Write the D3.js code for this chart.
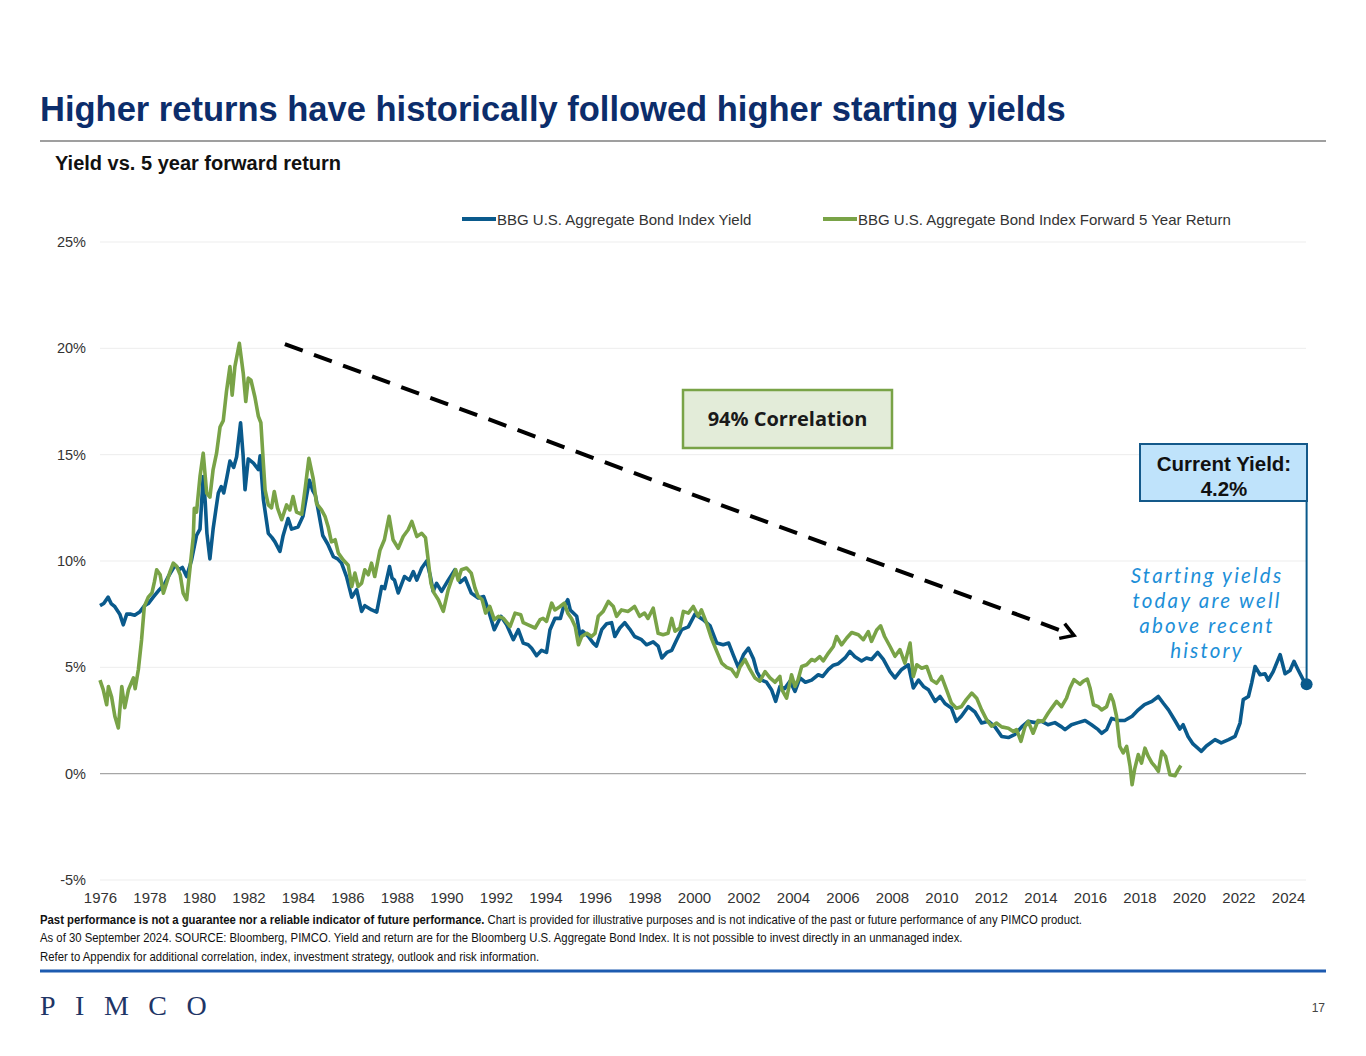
<!DOCTYPE html>
<html><head><meta charset="utf-8">
<script src="https://cdn.jsdelivr.net/npm/d3@7"></script>
<style>
body{margin:0;background:#fff;}
svg{display:block;font-family:"Liberation Sans",Arial,sans-serif;}
</style></head><body>
<svg id="c" width="1366" height="1056"></svg>
<script>
const yieldSeries = [[1976.00,7.9],[1976.15,8.0],[1976.33,8.3],[1976.45,8.0],[1976.60,7.85],[1976.80,7.5],[1976.94,7.0],[1977.08,7.5],[1977.25,7.5],[1977.40,7.45],[1977.60,7.6],[1977.80,7.9],[1977.95,8.0],[1978.15,8.3],[1978.40,8.65],[1978.60,8.9],[1978.76,9.27],[1979.03,9.8],[1979.20,9.6],[1979.33,9.7],[1979.50,9.27],[1979.70,10.05],[1979.90,11.2],[1980.04,11.5],[1980.17,13.97],[1980.25,12.8],[1980.32,11.3],[1980.44,10.1],[1980.57,11.5],[1980.68,12.4],[1980.78,13.2],[1980.90,13.5],[1981.00,13.2],[1981.12,13.9],[1981.25,14.7],[1981.40,14.4],[1981.52,14.9],[1981.68,16.5],[1981.78,15.0],[1981.86,13.35],[1981.99,14.8],[1982.20,14.6],[1982.40,14.3],[1982.47,14.95],[1982.60,12.9],[1982.80,11.3],[1982.95,11.1],[1983.07,10.9],[1983.27,10.45],[1983.40,11.2],[1983.60,12.0],[1983.74,11.5],[1984.00,11.6],[1984.20,12.1],[1984.46,13.8],[1984.60,13.3],[1984.70,13.1],[1984.80,12.5],[1985.00,11.2],[1985.20,10.8],[1985.43,10.2],[1985.60,10.1],[1985.76,9.9],[1985.96,9.27],[1986.17,8.3],[1986.37,8.65],[1986.57,7.63],[1986.70,7.9],[1986.98,7.7],[1987.18,7.6],[1987.38,8.8],[1987.50,8.7],[1987.70,9.74],[1987.80,9.2],[1987.90,9.1],[1988.05,8.5],[1988.30,9.27],[1988.50,9.1],[1988.66,9.5],[1988.80,9.1],[1989.00,9.67],[1989.20,10.0],[1989.35,9.27],[1989.46,8.57],[1989.60,8.95],[1989.80,8.57],[1990.07,9.1],[1990.34,9.59],[1990.55,9.0],[1990.75,9.2],[1991.00,8.49],[1991.28,8.26],[1991.50,8.33],[1991.69,7.7],[1991.93,6.77],[1992.20,7.4],[1992.43,7.0],[1992.70,6.3],[1992.90,6.77],[1993.10,6.14],[1993.30,6.06],[1993.44,5.9],[1993.64,5.55],[1993.84,5.8],[1994.04,5.7],[1994.18,6.77],[1994.38,7.3],[1994.60,7.3],[1994.72,7.8],[1994.90,8.18],[1995.00,7.7],[1995.26,7.4],[1995.40,6.45],[1995.50,6.7],[1995.73,6.45],[1995.93,6.14],[1996.06,6.0],[1996.27,6.77],[1996.47,7.05],[1996.67,7.1],[1996.80,6.45],[1997.00,6.85],[1997.20,7.1],[1997.40,6.8],[1997.60,6.45],[1997.88,6.3],[1998.08,6.06],[1998.35,6.2],[1998.55,6.0],[1998.70,5.44],[1998.90,5.7],[1999.10,5.8],[1999.30,6.3],[1999.50,6.77],[1999.77,6.9],[2000.04,7.5],[2000.37,7.24],[2000.65,6.95],[2000.92,6.14],[2001.18,6.06],[2001.40,6.14],[2001.58,5.6],[2001.79,5.0],[2002.00,5.6],[2002.20,5.9],[2002.40,5.4],[2002.54,4.8],[2002.73,4.4],[2002.93,4.3],[2003.13,3.95],[2003.30,3.4],[2003.47,4.1],[2003.66,4.0],[2003.88,4.35],[2004.08,3.87],[2004.28,4.5],[2004.50,4.3],[2004.75,4.4],[2005.02,4.65],[2005.20,4.57],[2005.43,4.9],[2005.63,5.1],[2005.83,5.17],[2006.10,5.44],[2006.30,5.75],[2006.50,5.5],[2006.77,5.3],[2006.97,5.44],[2007.17,5.37],[2007.42,5.7],[2007.65,5.37],[2007.92,4.8],[2008.12,4.5],[2008.39,4.9],[2008.66,5.12],[2008.86,4.03],[2009.07,4.4],[2009.27,4.1],[2009.47,3.95],[2009.74,3.4],[2009.94,3.63],[2010.14,3.3],[2010.40,3.08],[2010.60,2.46],[2010.80,2.7],[2011.08,3.15],[2011.35,2.9],[2011.62,2.38],[2011.90,2.46],[2012.16,2.2],[2012.43,1.75],[2012.70,1.7],[2012.97,1.85],[2013.24,2.2],[2013.50,2.46],[2013.78,2.4],[2014.05,2.46],[2014.30,2.3],[2014.58,2.4],[2014.85,2.2],[2014.99,2.07],[2015.25,2.3],[2015.52,2.4],[2015.80,2.5],[2016.06,2.3],[2016.33,2.07],[2016.47,1.9],[2016.67,2.07],[2016.87,2.6],[2017.14,2.5],[2017.40,2.5],[2017.70,2.7],[2017.95,3.0],[2018.20,3.25],[2018.50,3.4],[2018.76,3.63],[2018.97,3.3],[2019.17,3.0],[2019.43,2.5],[2019.63,2.1],[2019.76,2.3],[2019.96,1.75],[2020.16,1.4],[2020.50,1.05],[2020.70,1.3],[2021.05,1.6],[2021.30,1.45],[2021.60,1.6],[2021.86,1.75],[2022.06,2.38],[2022.19,3.48],[2022.40,3.63],[2022.53,4.26],[2022.67,5.04],[2022.87,4.65],[2023.07,4.7],[2023.20,4.4],[2023.40,4.8],[2023.68,5.6],[2023.88,4.7],[2024.08,4.85],[2024.24,5.28],[2024.40,4.9],[2024.62,4.4],[2024.75,4.2]];

const returnSeries = [[1976.00,4.4],[1976.13,3.95],[1976.27,3.24],[1976.34,4.1],[1976.47,3.6],[1976.60,2.7],[1976.74,2.15],[1976.88,4.1],[1977.00,3.1],[1977.15,3.95],[1977.35,4.5],[1977.42,4.0],[1977.55,4.9],[1977.68,6.3],[1977.79,7.86],[1977.95,8.3],[1978.10,8.5],[1978.20,9.03],[1978.29,9.59],[1978.43,9.35],[1978.56,8.49],[1978.70,9.0],[1978.83,9.5],[1978.96,9.9],[1979.10,9.75],[1979.24,9.35],[1979.36,8.49],[1979.50,8.18],[1979.63,9.59],[1979.77,11.15],[1979.81,12.48],[1979.90,12.3],[1980.04,13.97],[1980.17,15.07],[1980.31,13.19],[1980.44,13.0],[1980.57,14.3],[1980.71,15.07],[1980.85,16.3],[1980.98,16.6],[1981.11,17.97],[1981.25,19.14],[1981.34,17.8],[1981.45,19.14],[1981.63,20.24],[1981.79,18.8],[1981.89,17.5],[1981.99,18.6],[1982.10,18.5],[1982.26,17.7],[1982.40,16.8],[1982.50,16.5],[1982.60,14.6],[1982.67,13.35],[1982.80,12.64],[1982.93,12.5],[1983.04,13.27],[1983.17,12.5],[1983.34,11.94],[1983.54,12.64],[1983.67,12.4],[1983.80,13.03],[1983.94,12.3],[1984.15,12.2],[1984.30,13.5],[1984.44,14.83],[1984.61,13.9],[1984.75,12.7],[1984.95,12.4],[1985.09,12.1],[1985.22,11.6],[1985.35,10.9],[1985.50,11.0],[1985.63,10.37],[1985.83,10.05],[1986.03,9.8],[1986.17,8.8],[1986.30,9.43],[1986.43,8.8],[1986.57,8.96],[1986.70,9.59],[1986.84,9.35],[1986.97,9.9],[1987.10,9.27],[1987.31,10.5],[1987.49,11.0],[1987.68,12.1],[1987.84,11.0],[1988.05,10.6],[1988.25,11.15],[1988.45,11.47],[1988.60,11.86],[1988.80,11.15],[1989.00,11.3],[1989.15,11.1],[1989.26,10.05],[1989.37,8.96],[1989.50,8.49],[1989.67,8.18],[1989.87,7.63],[1990.07,8.65],[1990.20,9.1],[1990.37,9.59],[1990.47,9.1],[1990.60,9.59],[1990.81,9.67],[1991.00,9.43],[1991.15,8.73],[1991.28,8.33],[1991.44,8.18],[1991.58,7.55],[1991.75,7.86],[1991.93,7.24],[1992.10,7.4],[1992.30,7.3],[1992.57,6.92],[1992.77,7.55],[1993.00,7.47],[1993.10,7.1],[1993.30,7.0],[1993.58,6.85],[1993.78,7.24],[1993.90,7.3],[1994.04,7.16],[1994.25,8.02],[1994.38,7.7],[1994.59,7.86],[1994.76,8.02],[1994.90,7.55],[1995.05,7.3],[1995.20,6.92],[1995.33,6.06],[1995.46,6.45],[1995.67,6.6],[1995.86,6.45],[1996.00,6.6],[1996.13,7.4],[1996.33,7.63],[1996.54,8.1],[1996.74,7.86],[1996.87,7.4],[1997.07,7.7],[1997.34,7.63],[1997.60,7.86],[1997.80,7.4],[1998.00,7.55],[1998.14,7.3],[1998.35,7.78],[1998.55,6.6],[1998.75,6.53],[1998.95,6.6],[1999.10,7.3],[1999.23,6.7],[1999.43,6.85],[1999.57,7.63],[1999.77,7.55],[1999.97,7.86],[2000.17,7.4],[2000.30,7.7],[2000.50,7.1],[2000.70,6.38],[2000.92,5.75],[2001.12,5.2],[2001.32,5.0],[2001.52,4.9],[2001.72,4.57],[2001.85,5.0],[2002.06,5.37],[2002.26,4.9],[2002.46,4.5],[2002.66,4.35],[2002.87,4.8],[2003.07,4.5],[2003.27,4.3],[2003.47,4.57],[2003.55,3.95],[2003.74,3.55],[2003.94,4.65],[2004.08,4.1],[2004.20,4.4],[2004.35,5.04],[2004.55,5.12],[2004.75,5.37],[2004.88,5.3],[2005.08,5.5],[2005.22,5.3],[2005.43,5.67],[2005.63,5.98],[2005.76,6.45],[2005.96,6.06],[2006.17,6.38],[2006.37,6.64],[2006.64,6.53],[2006.84,6.3],[2007.04,6.68],[2007.17,6.22],[2007.38,6.76],[2007.54,6.95],[2007.70,6.45],[2007.92,5.98],[2008.12,5.52],[2008.32,5.83],[2008.52,5.2],[2008.73,6.14],[2008.86,4.57],[2009.00,5.12],[2009.20,4.96],[2009.40,5.04],[2009.60,4.4],[2009.80,4.25],[2010.00,4.57],[2010.20,3.95],[2010.40,3.32],[2010.60,3.08],[2010.80,3.15],[2011.00,3.48],[2011.22,3.79],[2011.42,3.55],[2011.62,3.0],[2011.82,2.54],[2012.02,2.23],[2012.22,2.38],[2012.43,2.2],[2012.70,2.14],[2012.90,1.98],[2013.03,2.07],[2013.21,1.52],[2013.37,2.2],[2013.50,2.46],[2013.70,1.9],[2013.90,2.5],[2014.10,2.46],[2014.31,2.85],[2014.45,3.08],[2014.65,3.4],[2014.85,3.15],[2015.05,3.55],[2015.19,4.03],[2015.35,4.42],[2015.60,4.2],[2015.72,4.34],[2015.89,4.45],[2016.00,4.03],[2016.14,3.24],[2016.33,3.15],[2016.47,3.0],[2016.67,3.15],[2016.83,3.71],[2016.94,3.4],[2017.07,2.7],[2017.20,1.28],[2017.34,0.98],[2017.48,1.28],[2017.62,0.34],[2017.70,-0.52],[2017.80,0.2],[2017.95,0.9],[2018.08,0.5],[2018.22,1.2],[2018.35,0.82],[2018.50,0.51],[2018.62,0.35],[2018.76,0.11],[2018.90,1.05],[2019.05,0.82],[2019.23,-0.05],[2019.43,-0.1],[2019.57,0.2],[2019.67,0.38]];

const seriesNames = ["BBG U.S. Aggregate Bond Index Yield","BBG U.S. Aggregate Bond Index Forward 5 Year Return"];
const xTickYears = [1976,1978,1980,1982,1984,1986,1988,1990,1992,1994,1996,1998,2000,2002,2004,2006,2008,2010,2012,2014,2016,2018,2020,2022,2024];
const yTickValues = [-5,0,5,10,15,20,25];
const currentYield = 4.2;
const correlationLabel = "94% Correlation";
const title = "Higher returns have historically followed higher starting yields";
const subtitle = "Yield vs. 5 year forward return";
const noteLines = [
  ["Past performance is not a guarantee nor a reliable indicator of future performance.", " Chart is provided for illustrative purposes and is not indicative of the past or future performance of any PIMCO product."],
  ["", "As of 30 September 2024. SOURCE: Bloomberg, PIMCO. Yield and return are for the Bloomberg U.S. Aggregate Bond Index. It is not possible to invest directly in an unmanaged index."],
  ["", "Refer to Appendix for additional correlation, index, investment strategy, outlook and risk information."]
];
const handNote = ["Starting yields","today are well","above recent","history"];

const BLUE = "#0a5a8c", GREEN = "#79a347";
const svg = d3.select("#c");

// scales
const x = d3.scaleLinear().domain([1976, 2024.75]).range([100, 1306.6]);
const y = d3.scaleLinear().domain([-5, 25]).range([880, 242]);

// title
svg.append("text").attr("x", 40).attr("y", 121).attr("font-size", 34.5).attr("font-weight", "bold")
  .attr("fill", "#0c2d6b").text(title);
svg.append("line").attr("x1", 40).attr("x2", 1326).attr("y1", 141).attr("y2", 141).attr("stroke", "#7f7f7f").attr("stroke-width", 1.5);
svg.append("text").attr("x", 55).attr("y", 169.5).attr("font-size", 20).attr("font-weight", "bold").attr("fill", "#111").text(subtitle);

// gridlines
const g = svg.append("g");
g.selectAll("line.grid").data(yTickValues).join("line").attr("class", "grid")
  .attr("x1", 100).attr("x2", 1306).attr("y1", d => y(d)).attr("y2", d => y(d))
  .attr("stroke", d => d === 0 ? "#a6a6a6" : "#ededed").attr("stroke-width", d => d === 0 ? 1.3 : 1);

// y axis
const yAxis = d3.axisLeft(y).tickValues(yTickValues).tickFormat(d => d + "%").tickSize(0).tickPadding(0);
const ya = svg.append("g").attr("transform", "translate(86,0)").call(yAxis);
ya.select(".domain").remove();
ya.selectAll("text").attr("font-size", 14.5).attr("fill", "#333").attr("font-family", "Liberation Sans, Arial, sans-serif");

// x axis
const xAxis = d3.axisBottom(x).tickValues(xTickYears).tickFormat(d3.format("d")).tickSize(0).tickPadding(0);
const xa = svg.append("g").attr("transform", "translate(0,892)").call(xAxis);
xa.select(".domain").remove();
xa.selectAll("text").attr("font-size", 15).attr("fill", "#333").attr("font-family", "Liberation Sans, Arial, sans-serif");

// lines
const line = d3.line().x(d => x(d[0])).y(d => y(d[1])).curve(d3.curveLinear);
svg.append("path").datum(yieldSeries).attr("d", line).attr("fill", "none").attr("stroke", BLUE)
  .attr("stroke-width", 3.6).attr("stroke-linejoin", "round");
svg.append("path").datum(returnSeries).attr("d", line).attr("fill", "none").attr("stroke", GREEN)
  .attr("stroke-width", 3.6).attr("stroke-linejoin", "round");

// legend
const legend = [{name: seriesNames[0], c: BLUE, x: 462}, {name: seriesNames[1], c: GREEN, x: 823}];
legend.forEach(l => {
  svg.append("line").attr("x1", l.x).attr("x2", l.x + 34).attr("y1", 219).attr("y2", 219).attr("stroke", l.c).attr("stroke-width", 4);
  svg.append("text").attr("x", l.x + 35).attr("y", 224.5).attr("font-size", 15).attr("fill", "#333").text(l.name);
});

// dashed trend arrow
const a0 = [x(1983.47), y(20.2)], a1 = [x(2015.35), y(6.5)];
svg.append("line").attr("x1", a0[0]).attr("y1", a0[1]).attr("x2", a1[0] - 4).attr("y2", a1[1] - 1.5)
  .attr("stroke", "#000").attr("stroke-width", 4).attr("stroke-dasharray", "19,12");
const ang = Math.atan2(a1[1] - a0[1], a1[0] - a0[0]);
const hl = 15, spread = 0.55;
const p1 = [a1[0] - hl * Math.cos(ang - spread), a1[1] - hl * Math.sin(ang - spread)];
const p2 = [a1[0] - hl * Math.cos(ang + spread), a1[1] - hl * Math.sin(ang + spread)];
svg.append("path").attr("d", `M${p1[0]},${p1[1]}L${a1[0]},${a1[1]}L${p2[0]},${p2[1]}`)
  .attr("fill", "none").attr("stroke", "#000").attr("stroke-width", 3.5).attr("stroke-linejoin", "miter");

// correlation box
svg.append("rect").attr("x", 683).attr("y", 390).attr("width", 209).attr("height", 58)
  .attr("fill", "#e3ecd9").attr("stroke", GREEN).attr("stroke-width", 2.5);
svg.append("text").attr("x", 787.5).attr("y", 426).attr("text-anchor", "middle").attr("font-size", 20)
  .attr("font-weight", "bold").attr("font-family", "Open Sans, Noto Sans, sans-serif").attr("fill", "#1a1a1a").text(correlationLabel);

// current yield callout
const last = yieldSeries[yieldSeries.length - 1];
const lx = x(last[0]), ly = y(last[1]);
svg.append("line").attr("x1", lx).attr("x2", lx).attr("y1", 500).attr("y2", ly).attr("stroke", BLUE).attr("stroke-width", 2);
svg.append("rect").attr("x", 1140).attr("y", 444).attr("width", 167).attr("height", 57)
  .attr("fill", "#bfe3fb").attr("stroke", "#14598a").attr("stroke-width", 2);
svg.append("text").attr("x", 1224).attr("y", 470.5).attr("text-anchor", "middle").attr("font-size", 20.5)
  .attr("font-weight", "bold").attr("fill", "#111").text("Current Yield:");
svg.append("text").attr("x", 1224).attr("y", 495.5).attr("text-anchor", "middle").attr("font-size", 20.5)
  .attr("font-weight", "bold").attr("fill", "#111").text(currentYield.toFixed(1) + "%");
svg.append("circle").attr("cx", lx).attr("cy", ly).attr("r", 6).attr("fill", BLUE);

// handwritten note
svg.append("g").selectAll("text").data(handNote).join("text")
  .attr("x", 1207).attr("y", (d, i) => 583 + i * 25).attr("text-anchor", "middle")
  .attr("font-size", 20.5).attr("letter-spacing", 2.2).attr("font-style", "italic").attr("font-family", "Lato, Open Sans, sans-serif")
  .attr("fill", "#1d8fd8").text(d => d);

// footnotes (condensed like Arial Narrow)
const fn = svg.append("g").attr("transform", "translate(40,0) scale(0.872,1)")
  .attr("font-family", "Liberation Sans, Arial, sans-serif").attr("font-size", 13).attr("fill", "#111");
noteLines.forEach((l, i) => {
  const t = fn.append("text").attr("x", 0).attr("y", 924 + i * 18.5);
  if (l[0]) t.append("tspan").attr("font-weight", "bold").text(l[0]);
  t.append("tspan").text(l[1]);
});
svg.append("line").attr("x1", 40).attr("x2", 1326).attr("y1", 971).attr("y2", 971).attr("stroke", "#1d5bb0").attr("stroke-width", 3);

// logo
svg.append("text").attr("x", 40).attr("y", 1015).attr("font-family", "Liberation Serif, DejaVu Serif, serif").attr("font-size", 28)
  .attr("letter-spacing", 19.5).attr("fill", "#1f3566").text("PIMCO");
svg.append("text").attr("x", 1325).attr("y", 1012).attr("text-anchor", "end").attr("font-size", 12).attr("fill", "#444").text("17");
</script></body></html>
